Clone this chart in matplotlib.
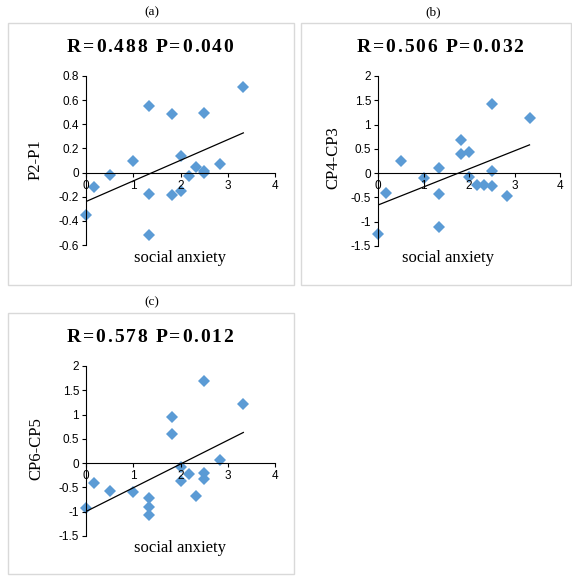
import numpy as np
import matplotlib
matplotlib.use('Agg')
import matplotlib.pyplot as plt
from matplotlib.patches import Rectangle
from matplotlib.ticker import FuncFormatter

plt.rcParams['axes.unicode_minus'] = False

# social anxiety scores (same subjects in every panel)
anxiety = [0, 0.17, 0.5, 1, 1.33, 1.33, 1.33, 1.83, 1.83, 2, 2,
           2.17, 2.33, 2.5, 2.5, 2.5, 2.83, 3.33]

# amplitude differences
p2_p1 = [-0.35, -0.12, -0.02, 0.10, 0.555, -0.18, -0.52, 0.487, -0.185, 0.136, -0.15,
         -0.03, 0.05, 0.495, 0.01, 0.0, 0.07, 0.71]
cp4_cp3 = [-1.26, -0.40, 0.26, -0.10, 0.11, -0.43, -1.10, 0.69, 0.40, 0.43, -0.07,
           -0.25, -0.25, 1.42, 0.05, -0.27, -0.47, 1.13]
cp6_cp5 = [-0.93, -0.40, -0.58, -0.60, -0.71, -0.90, -1.07, 0.95, 0.60, -0.08, -0.37,
           -0.22, -0.68, 1.70, -0.21, -0.32, 0.07, 1.21]

titles = ['R=0.488 P=0.040', 'R=0.506 P=0.032', 'R=0.578 P=0.012']
ylabels = ['P2-P1', 'CP4-CP3', 'CP6-CP5']
letters = ['(a)', '(b)', '(c)']
yranges = [(-0.6, 0.8, 0.2), (-1.5, 2, 0.5), (-1.5, 2, 0.5)]

W, H = 572, 576
fig = plt.figure(figsize=(W / 100, H / 100), dpi=100)
renderer = fig.canvas.get_renderer()

def fx(px):
    return px / W

def fy(py):
    return 1 - py / H

# bold title with extra letter spacing, centred on (cx, cy) in pixels
def spaced_title(s, cx, cy, track=1.8, **kw):
    widths = []
    for ch in s:
        t = fig.text(0, 0, ch if ch != ' ' else 'a', **kw)
        widths.append(t.get_window_extent(renderer).width * (0.5 if ch == ' ' else 1))
        t.remove()
    total = sum(widths) + track * (len(s) - 1)
    x = cx - total / 2
    for ch, w in zip(s, widths):
        if ch != ' ':
            fig.text(fx(x), fy(cy), ch, ha='left', va='center', **kw)
        x += w + track

# panel layout in pixels: box, axes (x0, x4, ytop, ybottom), title, ylabel, xlabel, letter
panels = [
    dict(box=(8, 23, 294, 285), ax=(86, 275, 76, 245), title=(150, 47),
         ylab=(36, 160), xlab=(180, 258), letter=(152, 12)),
    dict(box=(301, 23, 571, 285), ax=(378, 560, 76, 246), title=(440, 47),
         ylab=(333, 158), xlab=(448, 258), letter=(433, 12)),
    dict(box=(8, 313, 294, 574), ax=(86, 275, 366, 536), title=(150, 337),
         ylab=(36, 449), xlab=(180, 548), letter=(152, 302)),
]

serif = 'Liberation Serif'

for i, y in enumerate([p2_p1, cp4_cp3, cp6_cp5]):
    p = panels[i]
    bx0, by0, bx1, by1 = p['box']
    fig.patches.append(Rectangle((fx(bx0), fy(by1)), fx(bx1 - bx0), (by1 - by0) / H,
                                 transform=fig.transFigure, fill=False,
                                 edgecolor='#d9d9d9', lw=1))

    ax0, ax1, at, ab = p['ax']
    ax = fig.add_axes([fx(ax0), fy(ab), fx(ax1 - ax0), (ab - at) / H])
    ymin, ymax, step = yranges[i]
    ax.set_xlim(0, 4)
    ax.set_ylim(ymin, ymax)
    ax.set_xticks(np.arange(0, 5, 1))
    ax.set_yticks(np.arange(ymin, ymax + step / 2, step))
    ax.yaxis.set_major_formatter(FuncFormatter(lambda v, _: '%g' % round(v, 2)))

    for s in ['top', 'right']:
        ax.spines[s].set_visible(False)
    ax.spines['left'].set_position(('data', 0))
    ax.spines['bottom'].set_position(('data', 0))
    for s in ['left', 'bottom']:
        ax.spines[s].set_color('#000000')
        ax.spines[s].set_linewidth(0.8)
    ax.tick_params(direction='out', length=3, width=0.8, pad=2, labelsize=8.5)
    for lab in ax.get_xticklabels() + ax.get_yticklabels():
        lab.set_family('Liberation Sans')
    ax.patch.set_visible(False)

    # scatter of subjects
    ax.plot(anxiety, y, 'D', color='#5b9bd5', ms=6.5, mew=0, clip_on=False, zorder=1)

    # linear trend
    k, b = np.polyfit(anxiety, y, 1)
    xs = np.array([0, max(anxiety)])
    ax.plot(xs, k * xs + b, color='black', lw=0.9, zorder=2)

    spaced_title(titles[i], p['title'][0], p['title'][1], family=serif,
                 weight='bold', fontsize=14)
    fig.text(fx(p['ylab'][0]), fy(p['ylab'][1]), ylabels[i], family=serif,
             fontsize=12, rotation=90, ha='center', va='center')
    fig.text(fx(p['xlab'][0]), fy(p['xlab'][1]), 'social anxiety', family=serif,
             fontsize=12, ha='center', va='center')
    fig.text(fx(p['letter'][0]), fy(p['letter'][1]), letters[i], family=serif,
             fontsize=9.5, ha='center', va='center')

fig.savefig('out.png', dpi=100)
